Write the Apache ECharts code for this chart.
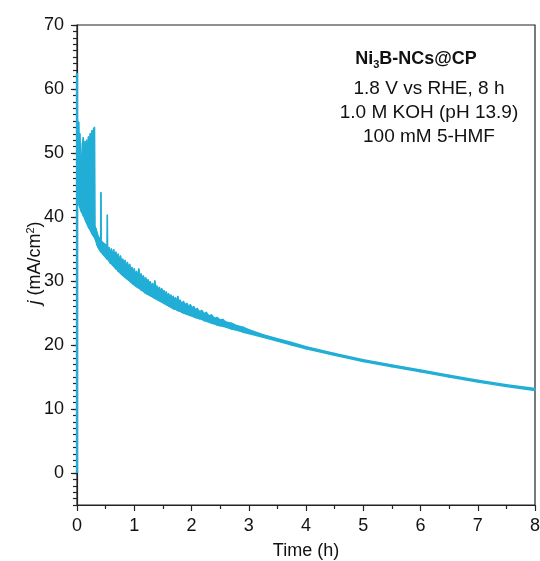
<!DOCTYPE html>
<html><head><meta charset="utf-8">
<script src="https://cdn.jsdelivr.net/npm/echarts@6/dist/echarts.min.js"></script>
<style>html,body{margin:0;padding:0;background:#fff}#c{width:540px;height:561px}</style>
</head><body><div id="c"></div>
<script>
// Time (h) samples of the current trace, with lower and upper edge of the noisy band (mA/cm2)
const times = [
  0.001,0.01,0.02,0.03,0.04,0.05,0.065,0.08,0.095,0.11,
  0.125,0.14,0.155,0.17,0.185,0.2,0.215,0.23,0.245,0.26,
  0.275,0.29,0.305,0.315,0.33,0.35,0.37,0.39,0.412,0.418,
  0.424,0.45,0.48,0.51,0.525,0.53,0.535,
  0.56,0.58,0.6,0.62,0.64,0.66,0.68,0.7,0.72,0.74,
  0.76,0.78,0.8,0.82,0.84,0.86,0.88,0.9,0.92,0.94,
  0.96,0.98,1.0,1.02,1.04,1.06,1.08,1.1,1.12,1.14,
  1.16,1.18,1.2,1.22,1.24,1.26,1.28,1.3,1.32,1.34,
  1.36,1.38,1.4,1.42,1.44,1.46,1.48,1.5,1.52,1.54,
  1.56,1.58,1.6,1.62,1.64,1.66,1.68,1.7,1.72,1.74,
  1.76,1.78,1.8,
  1.83,1.86,1.89,1.92,1.95,1.98,2.01,2.04,2.07,2.1,
  2.14,2.18,2.22,2.26,2.3,2.35,2.4,2.45,2.5,2.55,
  2.6,2.7,2.8,2.9,3.0,
  3.25,3.5,3.75,4.0,4.5,5.0,5.5,6.0,6.5,7.0,
  7.5,8.0];
const lower = [
  43,42.5,42.5,42,41.8,41.5,41,40.8,40.5,40.2,
  40,39.6,39.3,39,38.7,38.4,38.2,38,37.7,37.4,
  37.2,37,36.8,36.6,36.2,35.6,35.2,34.9,34.6,34.6,
  34.5,34.2,33.9,33.6,33.5,33.4,33.4,
  33.1,32.8,32.7,32.5,32.3,32.1,31.9,31.8,31.5,31.4,
  31.2,31.0,30.9,30.7,30.6,30.4,30.3,30.1,30.0,29.8,
  29.7,29.5,29.4,29.2,29.1,29.0,28.9,28.8,28.6,28.5,
  28.4,28.2,28.1,28.0,27.9,27.8,27.7,27.6,27.5,27.4,
  27.3,27.2,27.1,27.0,26.9,26.8,26.7,26.6,26.5,26.4,
  26.3,26.2,26.1,26.0,25.9,25.8,25.7,25.6,25.6,25.5,
  25.4,25.3,25.3,
  25.1,25.0,24.9,24.8,24.7,24.6,24.5,24.4,24.3,24.2,
  24.1,24.0,23.8,23.7,23.6,23.4,23.3,23.1,23.0,22.9,
  22.8,22.5,22.3,22.0,21.8,
  21.2,20.6,20.0,19.4,18.4,17.4,16.6,15.8,15.0,14.2,
  13.5,12.9];
const upper = [
  55,55,52,54.8,50,53,49.5,49,51.5,52.4,
  50,51.8,50.5,52,51,52.5,51.5,53,52,53.5,
  52.8,53.8,54,38.5,38.2,37.6,37,36.7,36.4,43.8,
  36.3,36,35.8,35.6,35.4,40.3,35.3,
  35.2,34.6,35.0,34.3,34.9,34.1,34.5,33.8,34.2,33.4,
  33.9,33.1,33.4,32.7,33.2,32.4,32.9,32.2,32.6,31.8,
  32.1,31.5,31.9,31.2,31.5,30.9,31.9,30.7,31.1,30.5,
  30.8,30.1,30.5,29.8,30.2,29.6,29.9,29.3,29.6,29.1,
  30.0,28.9,29.2,28.7,29.0,28.4,28.8,28.2,28.5,27.9,
  28.3,27.7,28.0,27.5,27.8,27.3,27.6,27.1,27.4,26.9,
  27.6,26.7,27.0,
  26.5,26.8,26.3,26.5,26.0,26.3,25.8,26.0,25.5,25.7,
  25.2,25.4,24.9,25.1,24.6,24.7,24.2,24.3,23.9,24.0,
  23.6,23.4,23.0,22.8,22.4,
  21.6,21.0,20.4,19.75,18.7,17.7,16.9,16.1,15.3,14.5,
  13.8,13.2];
// initial switch-on transient at t = 0
const startT = [0,0];
const startJ = [0,62.5];
const yMajor = [0,10,20,30,40,50,60,70];
const noteTitle = ['Ni','3','B-NCs@CP'];
const noteLines = ['1.8 V vs RHE, 8 h','1.0 M KOH (pH 13.9)','100 mM 5-HMF'];

const font = 'Liberation Sans, Arial, sans-serif';
const col = '#22AED6';
const axisCol = '#222';
const chart = echarts.init(document.getElementById('c'), null, {renderer:'canvas'});
const n = Math.min(times.length, lower.length, upper.length);
const bandItems = times.slice(0,n).map((t,i)=>[t,lower[i],upper[i]]);
chart.setOption({
  animation:false,
  backgroundColor:'#fff',
  grid:{left:77,right:5,top:25,bottom:56,show:true,borderColor:axisCol,borderWidth:1.2,backgroundColor:'transparent',outerBoundsMode:'none',containLabel:false},
  xAxis:[{
    type:'value',min:0,max:8,interval:1,
    axisLine:{show:true,onZero:false,lineStyle:{color:axisCol,width:1.2}},
    axisTick:{show:true,inside:false,length:6,lineStyle:{color:axisCol,width:1.2}},
    minorTick:{show:true,splitNumber:2,length:4,lineStyle:{color:axisCol,width:1.2}},
    splitLine:{show:false},
    axisLabel:{color:'#111',fontSize:18,fontFamily:font,margin:12},
    name:'Time (h)',nameLocation:'middle',nameGap:37,nameMoveOverlap:false,
    nameTextStyle:{color:'#111',fontSize:18,fontFamily:font}
  }],
  yAxis:[{
    type:'value',min:-5,max:70,interval:5,
    axisLine:{show:true,onZero:false,lineStyle:{color:axisCol,width:1.2}},
    axisTick:{show:true,inside:false,length:6,customValues:yMajor,lineStyle:{color:axisCol,width:1.2}},
    splitLine:{show:false},
    axisLabel:{color:'#111',fontSize:18,fontFamily:font,margin:13,customValues:yMajor}
  },{
    type:'value',min:-5,max:70,interval:1,position:'left',
    axisLine:{show:false},
    axisTick:{show:true,inside:false,length:4,lineStyle:{color:axisCol,width:1.2}},
    axisLabel:{show:false},splitLine:{show:false}
  }],
  series:[
    {type:'line',data:startT.map((t,i)=>[t,startJ[i]]),showSymbol:false,symbol:'none',
     lineStyle:{color:col,width:2.4}},
    {type:'custom',data:bandItems,encode:{x:0,y:[1,2]},
     renderItem:function(params,api){
       const i=params.dataIndex;
       if(i>=n-1) return null;
       const a=api.coord([times[i],upper[i]]), b=api.coord([times[i+1],upper[i+1]]);
       const c=api.coord([times[i+1],lower[i+1]]), d=api.coord([times[i],lower[i]]);
       return {type:'polygon',shape:{points:[a,b,c,d]},
               style:{fill:col,stroke:col,lineWidth:1.4,lineJoin:'round'}};
     }}
  ],
  graphic:[
    {type:'text',x:35,y:263,rotation:Math.PI/2,style:{
      text:'{i|j} (mA/cm{s|2})',align:'center',verticalAlign:'middle',fill:'#111',
      fontSize:18,fontFamily:font,
      rich:{i:{fontStyle:'italic',fontSize:18,fontFamily:font,fill:'#111'},
            s:{fontSize:11,fontFamily:font,fill:'#111',padding:[0,0,9,0]}}}},
    {type:'text',x:416,y:59,style:{
      text:'{b|'+noteTitle[0]+'}{sb|'+noteTitle[1]+'}{b|'+noteTitle[2]+'}',align:'center',verticalAlign:'middle',
      rich:{b:{fontWeight:'bold',fontSize:18,fontFamily:font,fill:'#111'},
            sb:{fontWeight:'bold',fontSize:11,fontFamily:font,fill:'#111',padding:[11,0,0,0]}}}},
    ...noteLines.map((s,i)=>({type:'text',x:429,y:89+i*24,style:{text:s,align:'center',verticalAlign:'middle',fontSize:19,fontFamily:font,fill:'#111'}}))
  ]
});
</script></body></html>
